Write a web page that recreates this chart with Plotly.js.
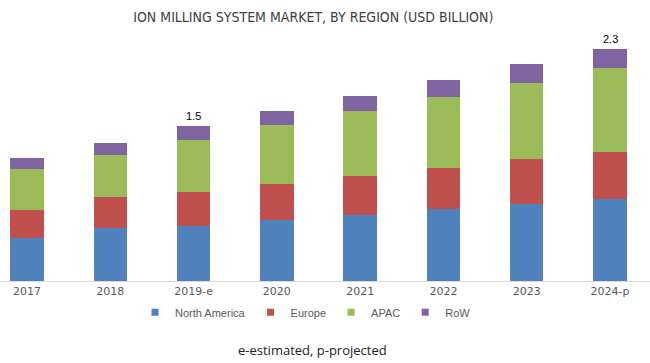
<!DOCTYPE html>
<html>
<head>
<meta charset="utf-8">
<script src="https://cdn.plot.ly/plotly-3.0.1.min.js"></script>
<style>html,body{margin:0;padding:0;background:#fff;}#chart{width:650px;height:363px;}</style>
</head>
<body>
<div id="chart"></div>
<script>
const years = ["2017", "2018", "2019-e", "2020", "2021", "2022", "2023", "2024-p"];
const northAmerica = [0.43, 0.52, 0.54, 0.60, 0.65, 0.71, 0.76, 0.815];
const europe = [0.27, 0.31, 0.34, 0.36, 0.39, 0.41, 0.45, 0.46];
const apac = [0.41, 0.42, 0.52, 0.58, 0.64, 0.70, 0.755, 0.835];
const row = [0.11, 0.12, 0.13, 0.145, 0.15, 0.17, 0.18, 0.19];
const totalLabels = {"2019-e": "1.5", "2024-p": "2.3"};

const seriesNames = ["North America", "Europe", "APAC", "RoW"];
const seriesData = [northAmerica, europe, apac, row];
const colors = ["#4F81BD", "#C0504D", "#9BBB59", "#8064A2"];

const barTraces = seriesData.map((vals, i) => ({
  type: "bar",
  name: seriesNames[i],
  legendgroup: seriesNames[i],
  showlegend: false,
  x: years,
  y: vals,
  width: 0.4,
  marker: {color: colors[i], line: {width: 0}},
  hoverinfo: "x+y+name"
}));

// small square legend keys (same series, legend only)
const legendTraces = seriesNames.map((name, i) => ({
  type: "scatter",
  mode: "markers",
  name: name,
  legendgroup: name,
  x: [null], y: [null],
  marker: {symbol: "square", size: 7, color: colors[i]},
  hoverinfo: "skip"
}));

const annotations = years.map((yr, i) => {
  if (!totalLabels[yr]) return null;
  const total = northAmerica[i] + europe[i] + apac[i] + row[i];
  return {
    x: yr, y: total, xref: "x", yref: "y",
    text: totalLabels[yr], showarrow: false,
    yanchor: "bottom", yshift: 2,
    font: {family: "Liberation Sans, Arial, sans-serif", size: 11, color: "#000"}
  };
}).filter(a => a);

annotations.push({
  xref: "paper", yref: "paper", x: 0.481, y: -0.265,
  xanchor: "center", yanchor: "middle",
  text: "e-estimated, p-projected", showarrow: false,
  font: {family: "Open Sans, Liberation Sans, sans-serif", size: 13, color: "#222"}
});

const layout = {
  width: 650, height: 363,
  margin: {l: 0, r: 0, t: 20, b: 82, pad: 0},
  barmode: "stack",
  paper_bgcolor: "#fff", plot_bgcolor: "#fff",
  title: {
    text: "ION MILLING SYSTEM MARKET, BY REGION (USD BILLION)",
    x: 0.482, xanchor: "center", y: 0.953, yanchor: "middle",
    font: {family: "Liberation Sans Narrow, DejaVu Sans Condensed, Arial Narrow, sans-serif", size: 14, color: "#404040"}
  },
  xaxis: {
    type: "category",
    range: [-0.324, 7.48],
    showline: true, linecolor: "#D9D9D9", linewidth: 1,
    ticks: "", showgrid: false, zeroline: false,
    tickfont: {family: "DejaVu Sans, sans-serif", size: 11, color: "#595959"}
  },
  yaxis: {
    range: [0, 2.584],
    visible: false, showgrid: false, zeroline: false
  },
  showlegend: true,
  legend: {
    orientation: "h", x: 0.47, xanchor: "center", y: -0.12, yanchor: "middle",
    font: {family: "Liberation Sans, Arial, sans-serif", size: 11, color: "#595959"},
    itemwidth: 30, traceorder: "normal"
  },
  annotations: annotations
};

Plotly.newPlot("chart", barTraces.concat(legendTraces), layout, {displayModeBar: false, staticPlot: true});
</script>
</body>
</html>
